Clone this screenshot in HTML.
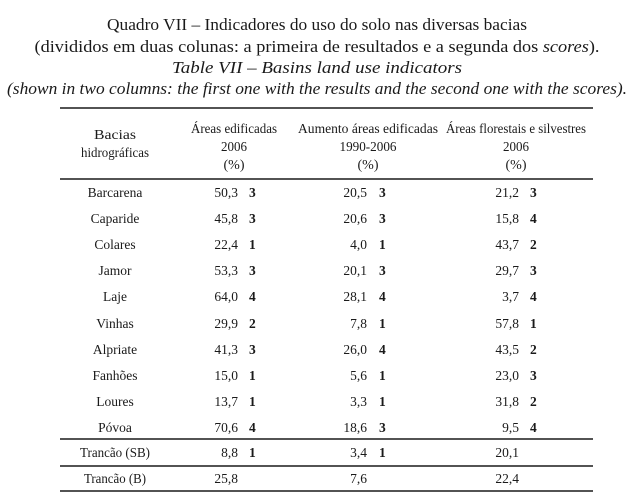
<!DOCTYPE html>
<html><head><meta charset="utf-8"><style>
html,body{margin:0;padding:0;background:#fff;}
svg{display:block;font-family:"Liberation Serif","Times New Roman",serif;fill:#1a1a1a;}
</style></head><body>
<svg width="634" height="504" viewBox="0 0 634 504" xmlns="http://www.w3.org/2000/svg">
<g font-size="17" text-anchor="middle">
<text x="317" y="30" textLength="420" lengthAdjust="spacingAndGlyphs">Quadro VII – Indicadores do uso do solo nas diversas bacias</text>
<text x="317" y="52" textLength="565" lengthAdjust="spacingAndGlyphs">(divididos em duas colunas: a primeira de resultados e a segunda dos <tspan font-style="italic">scores</tspan>).</text>
<text x="317" y="73" font-style="italic" textLength="290" lengthAdjust="spacingAndGlyphs">Table VII – Basins land use indicators</text>
<text x="317" y="94" font-style="italic" textLength="620" lengthAdjust="spacingAndGlyphs">(shown in two columns: the first one with the results and the second one with the scores).</text>
</g>
<g stroke="#1a1a1a" stroke-width="1.5">
<line x1="60" y1="108" x2="593" y2="108"/>
<line x1="60" y1="179" x2="593" y2="179"/>
<line x1="60" y1="439" x2="593" y2="439"/>
<line x1="60" y1="466" x2="593" y2="466"/>
<line x1="60" y1="491" x2="593" y2="491"/>
</g>
<g font-size="14" text-anchor="middle">
<text x="115" y="139" textLength="42" lengthAdjust="spacingAndGlyphs">Bacias</text>
<text x="115" y="157" textLength="68" lengthAdjust="spacingAndGlyphs">hidrográficas</text>
<text x="234" y="133" textLength="86" lengthAdjust="spacingAndGlyphs">Áreas edificadas</text>
<text x="234" y="151" textLength="26" lengthAdjust="spacingAndGlyphs">2006</text>
<text x="234" y="169">(%)</text>
<text x="368" y="133" textLength="140" lengthAdjust="spacingAndGlyphs">Aumento áreas edificadas</text>
<text x="368" y="151" textLength="57" lengthAdjust="spacingAndGlyphs">1990-2006</text>
<text x="368" y="169">(%)</text>
<text x="516" y="133" textLength="140" lengthAdjust="spacingAndGlyphs">Áreas florestais e silvestres</text>
<text x="516" y="151" textLength="26" lengthAdjust="spacingAndGlyphs">2006</text>
<text x="516" y="169">(%)</text>
</g>
<g font-size="13.5">
<g text-anchor="middle">
<text x="115" y="197">Barcarena</text>
<text x="115" y="223">Caparide</text>
<text x="115" y="249">Colares</text>
<text x="115" y="275">Jamor</text>
<text x="115" y="301">Laje</text>
<text x="115" y="328">Vinhas</text>
<text x="115" y="354">Alpriate</text>
<text x="115" y="380">Fanhões</text>
<text x="115" y="406">Loures</text>
<text x="115" y="432">Póvoa</text>
<text x="115" y="457" textLength="70" lengthAdjust="spacingAndGlyphs">Trancão (SB)</text>
<text x="115" y="483" textLength="62" lengthAdjust="spacingAndGlyphs">Trancão (B)</text>
</g>
<g text-anchor="end">
<text x="238" y="197">50,3</text><text x="367" y="197">20,5</text><text x="519" y="197">21,2</text>
<text x="238" y="223">45,8</text><text x="367" y="223">20,6</text><text x="519" y="223">15,8</text>
<text x="238" y="249">22,4</text><text x="367" y="249">4,0</text><text x="519" y="249">43,7</text>
<text x="238" y="275">53,3</text><text x="367" y="275">20,1</text><text x="519" y="275">29,7</text>
<text x="238" y="301">64,0</text><text x="367" y="301">28,1</text><text x="519" y="301">3,7</text>
<text x="238" y="328">29,9</text><text x="367" y="328">7,8</text><text x="519" y="328">57,8</text>
<text x="238" y="354">41,3</text><text x="367" y="354">26,0</text><text x="519" y="354">43,5</text>
<text x="238" y="380">15,0</text><text x="367" y="380">5,6</text><text x="519" y="380">23,0</text>
<text x="238" y="406">13,7</text><text x="367" y="406">3,3</text><text x="519" y="406">31,8</text>
<text x="238" y="432">70,6</text><text x="367" y="432">18,6</text><text x="519" y="432">9,5</text>
<text x="238" y="457">8,8</text><text x="367" y="457">3,4</text><text x="519" y="457">20,1</text>
<text x="238" y="483">25,8</text><text x="367" y="483">7,6</text><text x="519" y="483">22,4</text>
</g>
<g font-weight="bold">
<text x="249" y="197">3</text><text x="379" y="197">3</text><text x="530" y="197">3</text>
<text x="249" y="223">3</text><text x="379" y="223">3</text><text x="530" y="223">4</text>
<text x="249" y="249">1</text><text x="379" y="249">1</text><text x="530" y="249">2</text>
<text x="249" y="275">3</text><text x="379" y="275">3</text><text x="530" y="275">3</text>
<text x="249" y="301">4</text><text x="379" y="301">4</text><text x="530" y="301">4</text>
<text x="249" y="328">2</text><text x="379" y="328">1</text><text x="530" y="328">1</text>
<text x="249" y="354">3</text><text x="379" y="354">4</text><text x="530" y="354">2</text>
<text x="249" y="380">1</text><text x="379" y="380">1</text><text x="530" y="380">3</text>
<text x="249" y="406">1</text><text x="379" y="406">1</text><text x="530" y="406">2</text>
<text x="249" y="432">4</text><text x="379" y="432">3</text><text x="530" y="432">4</text>
<text x="249" y="457">1</text><text x="379" y="457">1</text>
</g>
</g>
</svg>
</body></html>
